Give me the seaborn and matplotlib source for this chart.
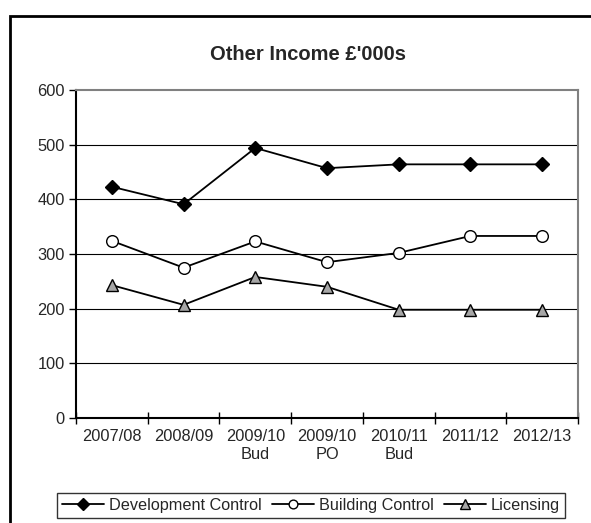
import matplotlib
matplotlib.use("Agg")
import matplotlib.pyplot as plt
import matplotlib.patches as mpatches
from matplotlib.lines import Line2D
import seaborn as sns
import pandas as pd
import numpy as np

categories = ["2007/08", "2008/09", "2009/10\nBud", "2009/10\nPO", "2010/11\nBud", "2011/12", "2012/13"]
development_control = [423, 391, 494, 457, 464, 464, 464]
building_control = [324, 275, 323, 285, 302, 333, 333]
licensing = [243, 207, 258, 240, 198, 198, 198]
series_names = ["Development Control", "Building Control", "Licensing"]
y_ticks = [0, 100, 200, 300, 400, 500, 600]

sns.set_theme(style="white")
plt.rcParams['font.family'] = ['Liberation Sans', 'DejaVu Sans']

W, H = 591, 523
fig = plt.figure(figsize=(W / 100, H / 100), dpi=100)
ax = fig.add_axes([76 / W, 1 - 418 / H, (578 - 76) / W, (418 - 90) / H])

x = np.arange(len(categories))
df = pd.DataFrame({
    "x": np.tile(x, 3),
    "value": development_control + building_control + licensing,
    "series": np.repeat(series_names, len(categories)),
})

styles = {
    "Development Control": dict(marker="D", mfc="black", ms=7.5),
    "Building Control": dict(marker="o", mfc="white", ms=8.4),
    "Licensing": dict(marker="^", mfc="#a6a6a6", ms=8.8),
}
for name in series_names:
    sub = df[df["series"] == name]
    st = styles[name]
    sns.lineplot(data=sub, x="x", y="value", ax=ax, color="black", lw=1.3,
                 marker=st["marker"], markersize=st["ms"], markerfacecolor=st["mfc"],
                 markeredgecolor="black", markeredgewidth=1.0, legend=False, zorder=3)

ax.set_xlim(-0.5, len(categories) - 0.5)
ax.set_ylim(0, 600)
ax.set_yticks(y_ticks)
ax.set_yticklabels([str(v) for v in y_ticks], fontsize=11.8)
ax.set_xticks(x)
ax.set_xticklabels(categories, fontsize=11.8, linespacing=1.25)
ax.set_xticks(np.arange(len(categories) + 1) - 0.5, minor=True)
ax.tick_params(axis="x", which="major", length=0, pad=8)
ax.tick_params(axis="x", which="minor", length=8, width=1, color="black", direction="inout", bottom=True)
ax.tick_params(axis="y", which="major", length=5, width=1, color="black", direction="out", left=True, pad=3)
ax.set_xlabel("")
ax.set_ylabel("")

for v in y_ticks[1:-1]:
    ax.axhline(v, color="black", lw=0.8, zorder=1)

for side in ["top", "right"]:
    ax.spines[side].set_color("#808080")
    ax.spines[side].set_linewidth(1.5)
for side in ["left", "bottom"]:
    ax.spines[side].set_color("black")
    ax.spines[side].set_linewidth(1.5)

fig.text(308 / W, 1 - 60 / H, "Other Income £'000s", ha="center", va="baseline",
         fontsize=14.5, fontweight="bold")

handles = [Line2D([0], [0], color="black", lw=1.3, marker=styles[n]["marker"],
                  markersize=styles[n]["ms"] * 0.75, markerfacecolor=styles[n]["mfc"],
                  markeredgecolor="black") for n in series_names]
leg = fig.legend(handles, series_names, loc="center", bbox_to_anchor=(311 / W, 1 - 505.5 / H),
                 ncol=3, fontsize=11.7, frameon=True, fancybox=False, handlelength=2.6,
                 handletextpad=0.3, columnspacing=0.6, borderpad=0.3, borderaxespad=0)
leg.get_frame().set_edgecolor("black")
leg.get_frame().set_linewidth(1.0)

border = mpatches.Rectangle((10 / W, -0.2), 1.2, 1.2 - 16 / H, transform=fig.transFigure,
                            fill=False, edgecolor="black", lw=2, clip_on=False)
fig.patches.append(border)

fig.savefig("out.png", dpi=100, facecolor="white")
